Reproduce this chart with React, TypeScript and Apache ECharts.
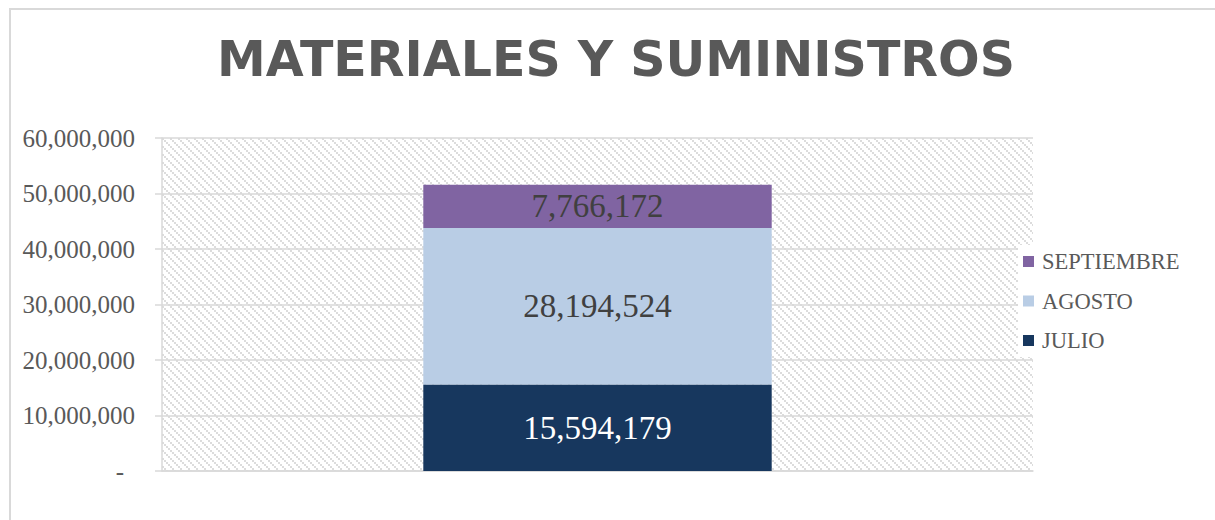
import React, { useEffect, useRef } from "react";
import * as echarts from "echarts";

const title = "MATERIALES Y SUMINISTROS";
const categories = ["MATERIALES Y SUMINISTROS"];
const seriesNames = ["JULIO", "AGOSTO", "SEPTIEMBRE"];
const julio = [15594179];
const agosto = [28194524];
const septiembre = [7766172];
const seriesColors = ["#17375E", "#B9CDE5", "#8064A2"];
const labelColors = ["#FFFFFF", "#404040", "#404040"];
const legendOrder = ["SEPTIEMBRE", "AGOSTO", "JULIO"];
const yMin = 0;
const yMax = 60000000;
const yInterval = 10000000;

function makePattern(): string {
  const c = document.createElement("canvas");
  c.width = 8;
  c.height = 8;
  const ctx = c.getContext("2d")!;
  ctx.fillStyle = "#ffffff";
  ctx.fillRect(0, 0, 8, 8);
  ctx.fillStyle = "#dcdcdc";
  for (let i = 0; i < 8; i += 2) {
    ctx.fillRect(i, i, 2, 2);
  }
  return c.toDataURL("image/png");
}

function fmt(v: number): string {
  return v.toLocaleString("en-US");
}

export default function App() {
  const ref = useRef<HTMLDivElement>(null);
  useEffect(() => {
    if (!ref.current) return;
    const chart = echarts.init(ref.current, null, { renderer: "svg" });
    const serif = "'Liberation Serif', 'DejaVu Serif', serif";
    const values = [julio, agosto, septiembre];
    const pattern = { image: makePattern(), repeat: "repeat", imageWidth: 8, imageHeight: 8 };
    chart.setOption({
      animation: false,
      backgroundColor: "#ffffff",
      title: {
        text: title,
        left: 611,
        textAlign: "center",
        top: 30,
        textStyle: {
          fontFamily: "'DejaVu Sans', 'Liberation Sans', sans-serif",
          fontWeight: "bold",
          fontSize: 49,
          color: "#595959",
        },
      },
      graphic: [
        {
          type: "rect",
          shape: { x: 10, y: 9, width: 1400, height: 700 },
          style: { fill: "none", stroke: "#d9d9d9", lineWidth: 2 },
          silent: true,
          z: -10,
        },
      ],
      legend: {
        orient: "vertical",
        left: 1018,
        top: 245,
        data: legendOrder,
        itemWidth: 11,
        itemHeight: 11,
        itemGap: 16.5,
        padding: 5,
        backgroundColor: "#ffffff",
        icon: "rect",
        textStyle: {
          fontFamily: serif,
          fontSize: 22.5,
          lineHeight: 22,
          color: "#595959",
          padding: [0, 0, 0, 3],
        },
      },
      grid: {
        left: 162,
        right: 182,
        top: 138,
        bottom: 49,
        show: true,
        backgroundColor: pattern,
        borderWidth: 0,
      },
      xAxis: {
        type: "category",
        data: categories,
        axisLabel: { show: false },
        axisTick: { show: false },
        axisLine: { lineStyle: { color: "#d9d9d9", width: 1.5 } },
      },
      yAxis: {
        type: "value",
        min: yMin,
        max: yMax,
        interval: yInterval,
        axisLine: { show: true, lineStyle: { color: "#d9d9d9", width: 1.5 } },
        axisTick: { show: true, length: 7, lineStyle: { color: "#d9d9d9", width: 1.5 } },
        splitLine: { lineStyle: { color: "#d9d9d9", width: 1.5 } },
        axisLabel: {
          margin: 27,
          fontFamily: serif,
          fontSize: 25,
          color: "#595959",
          formatter: (v: number) => (v === 0 ? "{d|-}" : fmt(v)),
          rich: { d: { fontFamily: serif, fontSize: 25, color: "#595959", padding: [0, 11, 0, 0] } },
        },
      },
      series: seriesNames.map((name, i) => ({
        name,
        type: "bar",
        stack: "total",
        barWidth: "40%",
        data: values[i],
        itemStyle: { color: seriesColors[i] },
        label: {
          show: true,
          position: "inside",
          formatter: (p: any) => fmt(p.value),
          fontFamily: serif,
          fontSize: 33,
          color: labelColors[i],
        },
      })),
    });
    return () => chart.dispose();
  }, []);
  return (
    <div
      ref={ref}
      style={{ position: "fixed", left: 0, top: 0, width: 1215, height: 520 }}
    />
  );
}
